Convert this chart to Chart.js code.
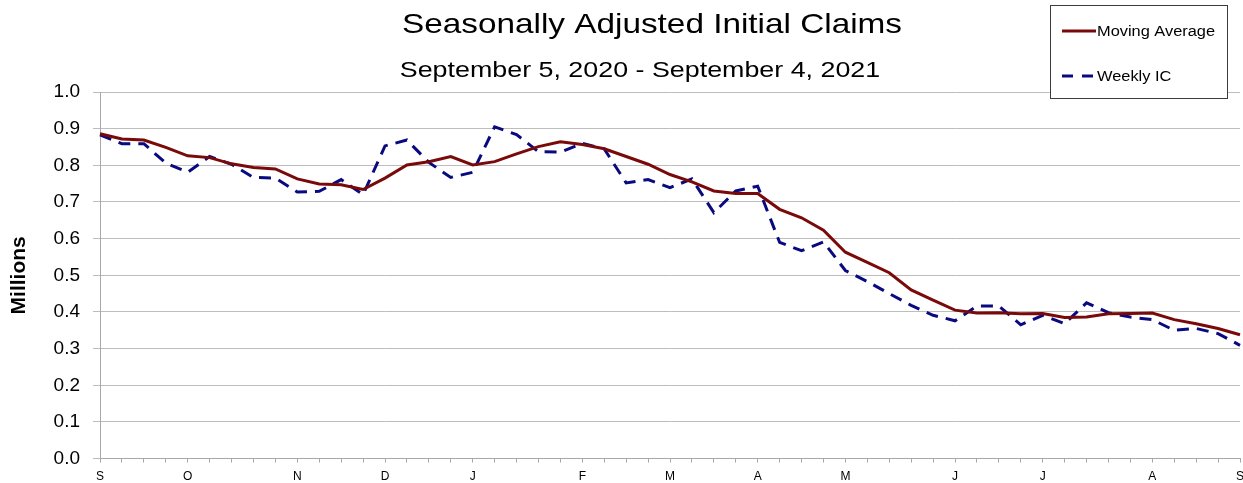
<!DOCTYPE html>
<html lang="en">
<head>
    <meta charset="UTF-8">
    <title>Seasonally Adjusted Initial Claims</title>
    <style>
        html, body { margin: 0; padding: 0; background: #fff; }
        #wrap { width: 1243px; height: 483px; position: relative; }
    </style>
</head>
<body>
    <div id="wrap"><canvas id="myChart" width="1243" height="483"></canvas></div>

    <script src="https://cdn.jsdelivr.net/npm/chart.js"></script>
    <script>
        // week ending dates (Saturday)
        var weeks = [
            '2020-09-05','2020-09-12','2020-09-19','2020-09-26','2020-10-03','2020-10-10','2020-10-17','2020-10-24','2020-10-31',
            '2020-11-07','2020-11-14','2020-11-21','2020-11-28','2020-12-05','2020-12-12','2020-12-19','2020-12-26',
            '2021-01-02','2021-01-09','2021-01-16','2021-01-23','2021-01-30','2021-02-06','2021-02-13','2021-02-20','2021-02-27',
            '2021-03-06','2021-03-13','2021-03-20','2021-03-27','2021-04-03','2021-04-10','2021-04-17','2021-04-24',
            '2021-05-01','2021-05-08','2021-05-15','2021-05-22','2021-05-29','2021-06-05','2021-06-12','2021-06-19','2021-06-26',
            '2021-07-03','2021-07-10','2021-07-17','2021-07-24','2021-07-31','2021-08-07','2021-08-14','2021-08-21','2021-08-28',
            '2021-09-04'
        ];

        // millions
        var movingAverage = [
            0.886, 0.872, 0.869, 0.849, 0.826, 0.821, 0.804, 0.794, 0.790, 0.763, 0.749, 0.747, 0.734,
            0.765, 0.801, 0.810, 0.824, 0.801, 0.810, 0.831, 0.851, 0.864, 0.857, 0.845, 0.824, 0.803,
            0.775, 0.755, 0.730, 0.723, 0.723, 0.680, 0.657, 0.623, 0.563, 0.535, 0.507, 0.460, 0.432,
            0.405, 0.397, 0.398, 0.395, 0.396, 0.385, 0.386, 0.395, 0.396, 0.397, 0.379, 0.368, 0.355, 0.338
        ];

        var weeklyIC = [
            0.883, 0.859, 0.859, 0.806, 0.781, 0.824, 0.803, 0.767, 0.765, 0.727, 0.729, 0.761, 0.720,
            0.853, 0.869, 0.808, 0.767, 0.781, 0.905, 0.884, 0.837, 0.836, 0.860, 0.845, 0.752, 0.761,
            0.739, 0.763, 0.671, 0.730, 0.743, 0.590, 0.567, 0.591, 0.513, 0.483, 0.450, 0.418, 0.391,
            0.376, 0.416, 0.416, 0.365, 0.391, 0.368, 0.425, 0.398, 0.386, 0.379, 0.350, 0.355, 0.341, 0.309
        ];

        var monthLetters = ['J','F','M','A','M','J','J','A','S','O','N','D'];

        var titleText = 'Seasonally Adjusted Initial Claims';
        var subtitleText = 'September 5, 2020 - September 4, 2021';

        var FONT = '"Liberation Sans", Arial, Helvetica, sans-serif';

        // draws stretched text (the original chart text is a bit wide)
        function wideText(ctx, str, x, y, size, sx, align, weight) {
            ctx.save();
            ctx.font = (weight || 'normal') + ' ' + size + 'px ' + FONT;
            ctx.textBaseline = 'alphabetic';
            ctx.fillStyle = '#000';
            var w = ctx.measureText(str).width * sx;
            var left = align === 'center' ? x - w / 2 : x;
            ctx.translate(left, y);
            ctx.scale(sx, 1);
            ctx.fillText(str, 0, 0);
            ctx.restore();
        }

        var titlesAndLegend = {
            id: 'titlesAndLegend',
            afterDraw: function(chart) {
                var ctx = chart.ctx;
                wideText(ctx, titleText, 652, 33, 28, 1.19, 'center');
                wideText(ctx, subtitleText, 640, 77, 22, 1.22, 'center');

                // legend box
                ctx.save();
                ctx.fillStyle = '#fff';
                ctx.fillRect(1050, 5, 178, 94);
                ctx.strokeStyle = '#3c3c3c';
                ctx.lineWidth = 1;
                ctx.strokeRect(1050.5, 5.5, 177, 93);

                var ds = chart.data.datasets;
                ctx.lineWidth = 3;
                ctx.strokeStyle = ds[0].borderColor;
                ctx.beginPath();
                ctx.moveTo(1062, 31);
                ctx.lineTo(1096, 31);
                ctx.stroke();

                ctx.strokeStyle = ds[1].borderColor;
                ctx.setLineDash([11, 9]);
                ctx.beginPath();
                ctx.moveTo(1062, 76);
                ctx.lineTo(1096, 76);
                ctx.stroke();
                ctx.restore();

                wideText(ctx, ds[0].label, 1097, 36, 14, 1.17, 'left');
                wideText(ctx, ds[1].label, 1097, 81, 14, 1.17, 'left');
            }
        };

        var ctx = document.getElementById('myChart').getContext('2d');
        var myChart = new Chart(ctx, {
            type: 'line',
            data: {
                labels: weeks,
                datasets: [
                    {
                        label: 'Moving Average',
                        data: movingAverage,
                        borderColor: '#7a0a0a',
                        borderWidth: 3,
                        pointRadius: 0,
                        tension: 0,
                        fill: false
                    },
                    {
                        label: 'Weekly IC',
                        data: weeklyIC,
                        borderColor: '#0a0a80',
                        borderWidth: 3,
                        borderDash: [12, 8],
                        pointRadius: 0,
                        tension: 0,
                        fill: false
                    }
                ]
            },
            options: {
                responsive: false,
                animation: false,
                layout: { padding: { top: 92, right: 3, left: 0, bottom: 0 } },
                plugins: {
                    legend: { display: false },
                    tooltip: { enabled: false }
                },
                scales: {
                    x: {
                        offset: false,
                        grid: {
                            drawOnChartArea: false,
                            drawTicks: true,
                            tickLength: 4,
                            color: '#a8a8a8'
                        },
                        border: { color: '#a8a8a8' },
                        ticks: {
                            autoSkip: false,
                            maxRotation: 0,
                            padding: 7,
                            color: '#000',
                            font: { family: FONT, size: 12 },
                            callback: function(val, i) {
                                var d = weeks[i];
                                var day = parseInt(d.slice(8, 10), 10);
                                if (day <= 7) return monthLetters[parseInt(d.slice(5, 7), 10) - 1];
                                return '';
                            }
                        },
                        afterFit: function(scale) {
                            scale.height = 23;
                            // let the last "S" run off the edge like the original
                            scale.paddingRight = 0;
                        }
                    },
                    y: {
                        min: 0,
                        max: 1,
                        grid: {
                            color: '#bdbdbd',
                            tickLength: 7,
                            lineWidth: 1
                        },
                        border: { color: '#a8a8a8' },
                        ticks: {
                            stepSize: 0.1,
                            padding: 13,
                            color: '#000',
                            font: { family: FONT, size: 19 },
                            callback: function(v) { return v.toFixed(1); }
                        },
                        title: {
                            display: true,
                            text: 'Millions',
                            color: '#000',
                            padding: { top: 7, bottom: 0 },
                            font: { family: FONT, size: 21, weight: 'bold' }
                        },
                        afterFit: function(scale) { scale.width = 100; }
                    }
                }
            },
            plugins: [titlesAndLegend]
        });
    </script>
</body>
</html>
